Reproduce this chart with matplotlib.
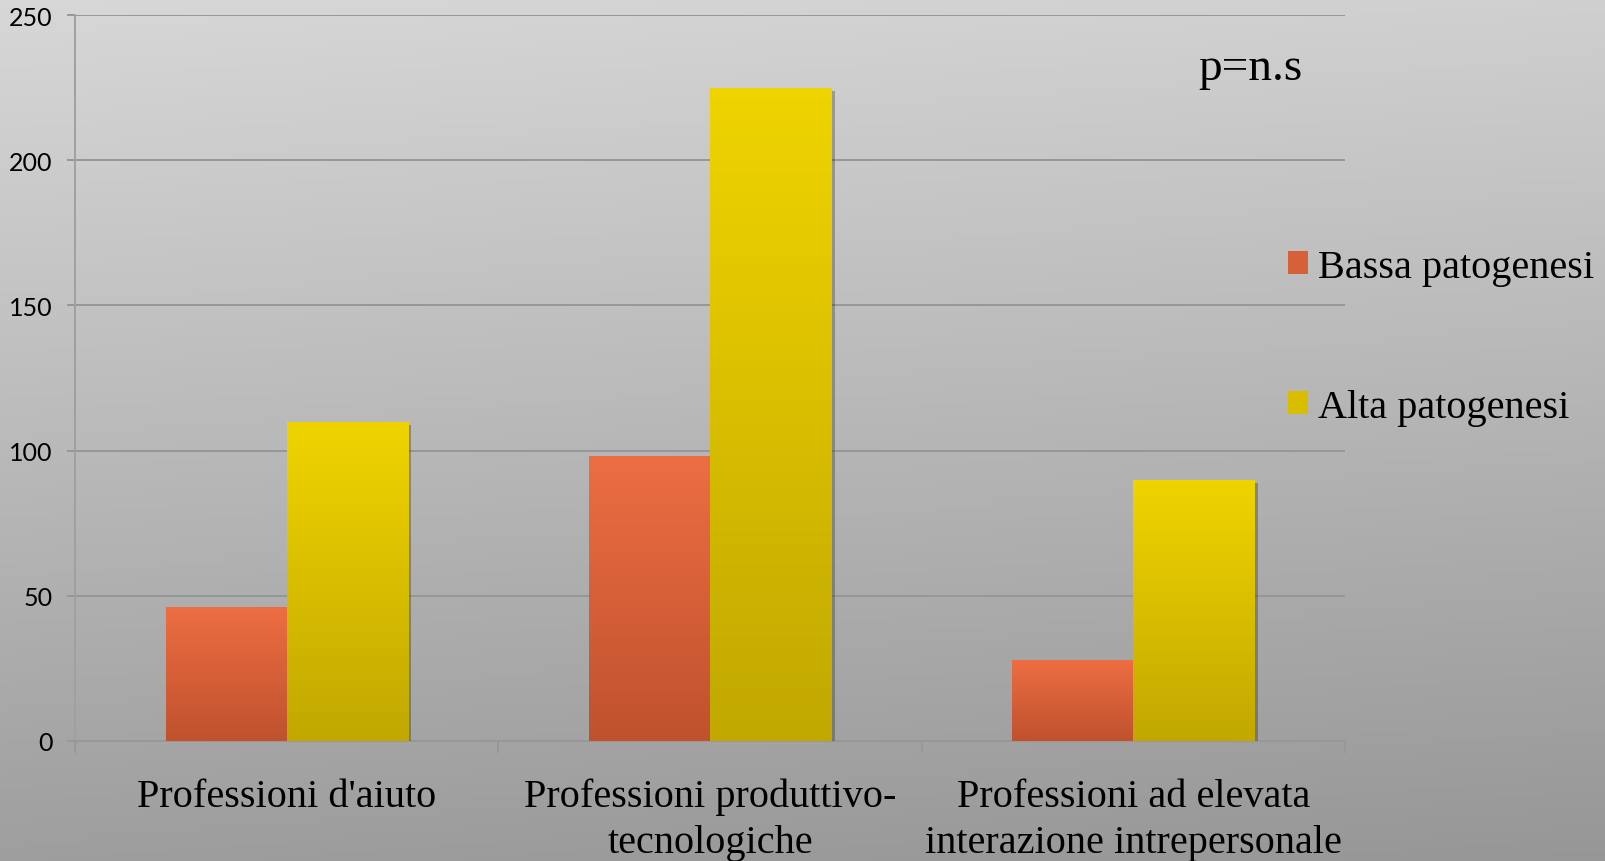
import numpy as np
import matplotlib
matplotlib.use("Agg")
import matplotlib.pyplot as plt
from matplotlib.patches import Patch
import matplotlib.patheffects as pe

categories = ["Professioni d'aiuto",
              "Professioni produttivo-\ntecnologiche",
              "Professioni ad elevata\ninterazione intrepersonale"]
series_names = ["Bassa patogenesi", "Alta patogenesi"]
bassa = [46, 98, 28]
alta = [110, 225, 90]
yticks = [0, 50, 100, 150, 200, 250]
annotation = "p=n.s"

W, H, DPI = 1605, 862, 100
fig = plt.figure(figsize=(W / DPI, H / DPI), dpi=DPI)

# background gradient
bg = fig.add_axes([0, 0, 1, 1], zorder=-10)
yy, xx = np.mgrid[0:1:200j, 0:1:300j]
t = 0.88 * yy + 0.12 * xx
top, bot = 0.845, 0.59
img = top + (bot - top) * t
bg.imshow(np.dstack([img, img, img]), extent=[0, 1, 0, 1], aspect='auto', origin='upper')
bg.set_axis_off()

ax = fig.add_axes([75 / W, 1 - 742 / H, (1345 - 75) / W, (742 - 16) / H])
ax.set_facecolor('none')

x = np.arange(len(categories))
bw = 0.286
colors_top = [(0.93, 0.43, 0.26), (0.94, 0.83, 0.0)]
colors_bot = [(0.75, 0.32, 0.18), (0.76, 0.66, 0.0)]
mid = [tuple((a + b) / 2 for a, b in zip(ct, cb)) for ct, cb in zip(colors_top, colors_bot)]

ax.set_xlim(-0.5, 2.5)
ax.set_ylim(0, 250)

for i, (vals, off) in enumerate([(bassa, -bw / 2), (alta, bw / 2)]):
    bars = ax.bar(x + off, vals, width=bw, color=mid[i], zorder=3, linewidth=0,
                  label=series_names[i])
    for b in bars:
        b.set_path_effects([pe.SimplePatchShadow(offset=(2.5, -2.5), alpha=0.25, shadow_rgbFace='k'),
                            pe.Normal()])
        x0 = b.get_x()
        h = b.get_height()
        grad = np.linspace(0, 1, 100)[:, None]
        ct = np.array(colors_top[i]); cb = np.array(colors_bot[i])
        g = ct[None, None, :] + (cb - ct)[None, None, :] * grad[:, :, None]
        im = ax.imshow(g, extent=[x0, x0 + bw, 0, h], aspect='auto', origin='upper', zorder=4)
        im.set_clip_path(b)

ax.set_yticks(yticks)
ax.set_yticklabels([str(v) for v in yticks], fontsize=18, family='Lato', color='black')
ax.yaxis.grid(True, color='#979797', linewidth=1.4, zorder=0)
ax.set_axisbelow(True)

ax.set_xticks([-0.5, 0.5, 1.5, 2.5])
ax.set_xticklabels([])
ax.set_xticks(x, minor=True)
ax.set_xticklabels(categories, minor=True, fontsize=29, family='Liberation Serif',
                   linespacing=1.32)
ax.tick_params(axis='x', which='minor', length=0, pad=26.5)
ax.tick_params(axis='x', which='major', length=8.5, width=1.4, color='#979797', direction='out')
ax.tick_params(axis='y', length=6, width=1.4, color='#979797', pad=10)

for s in ['top', 'right']:
    ax.spines[s].set_visible(False)
ax.spines['left'].set_color('#a0a0a0')
ax.spines['left'].set_linewidth(1.4)
ax.spines['bottom'].set_color('#979797')
ax.spines['bottom'].set_linewidth(1.4)

ax.text(1198 / W, 1 - 80 / H, annotation, transform=fig.transFigure, fontsize=34,
        family='Liberation Serif', va='baseline', ha='left')

handles = [Patch(facecolor=mid[0]), Patch(facecolor=mid[1])]
fig.legend(handles, series_names, loc='upper left', bbox_to_anchor=(1252 / W, 1 - 214 / H),
           frameon=False, prop={'family': 'Liberation Serif', 'size': 29},
           handlelength=0.5, handleheight=0.5, handletextpad=0.25, labelspacing=2.55)

fig.savefig("out.png", dpi=DPI)
